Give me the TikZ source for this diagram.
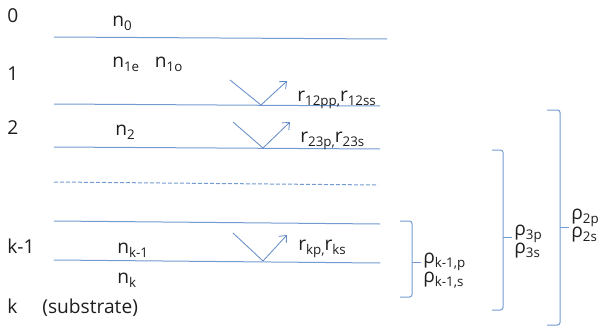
\documentclass[tikz,border=0pt]{standalone}
\usepackage{fontspec}
\setmainfont{Open Sans}
\usetikzlibrary{positioning, arrows.meta}
\definecolor{layerblue}{RGB}{115,155,210}
\definecolor{rayblue}{RGB}{100,140,200}
\definecolor{txtgray}{RGB}{30,30,30}
\newcommand{\lsub}[1]{\raisebox{-2.4pt}{\fontsize{8}{9}\selectfont #1}}

\begin{document}
\begin{tikzpicture}[x=0.6pt, y=-0.6pt,
	        layer/.style={draw=layerblue, line width=0.6pt},
	        lbl/.style={anchor=base west, inner sep=0pt, text=txtgray, font=\fontsize{11.5}{13}\selectfont},
	        ray/.style={draw=rayblue, line width=0.5pt},
	        bracket/.style={draw=layerblue, line width=0.6pt, rounded corners=1.5pt},
	        node distance=8pt, >={Straight Barb[length=3.5pt, width=6pt]}]
	        
	        \useasboundingbox (0,0) rectangle (604,331);
	        
	        % Camadas (numeros)
	        \node (num0) [lbl] at (7,22) {0};
	        \node (num1) [lbl] at (7,80) {1};
	        \node (num2) [lbl] at (7,134) {2};
	        \node (numk1) [lbl] at (7,253) {k-1};
	        \node (numk) [lbl] at (7,313) {k\hspace{15pt}(substrate)};
	        
	        % Indices de refracao
	        \node (n0) [lbl] at (112,26) {n\lsub{0}};
	        \node (n1e) [lbl] at (112,67) {n\lsub{1e}};
	        \node (n1o) [lbl, right=9pt of n1e] {n\lsub{1o}};
	        \node (n2) [lbl] at (115,135) {n\lsub{2}};
	        \node (nk1) [lbl] at (117,253) {n\lsub{k-1}};
	        \node (nk) [lbl] at (117,283) {n\lsub{k}};
	        
	        % Interfaces
	        \coordinate (i0a) at (54,37);  \coordinate (i0b) at (387,39);
	        \coordinate (i1a) at (54,104); \coordinate (i1b) at (380,106);
	        \coordinate (i2a) at (54,147); \coordinate (i2b) at (380,149);
	        \coordinate (ida) at (54,182); \coordinate (idb) at (378,185);
	        \coordinate (i3a) at (54,221); \coordinate (i3b) at (380,224);
	        \coordinate (i4a) at (54,260); \coordinate (i4b) at (380,263);
	        
	        \draw[layer] (i0a) -- (i0b);
	        \draw[layer] (i1a) -- (i1b);
	        \draw[layer] (i2a) -- (i2b);
	        \draw[layer, dash pattern=on 2.4pt off 1.2pt] (ida) -- (idb);
	        \draw[layer] (i3a) -- (i3b);
	        \draw[layer] (i4a) -- (i4b);
	        
	        % Reflexoes
	        \coordinate (in12) at (230,80);  \coordinate (hit12) at (261,105); \coordinate (out12) at (287,81);
	        \coordinate (in23) at (233,122); \coordinate (hit23) at (263,148); \coordinate (out23) at (290,122);
	        \coordinate (ink) at (233,233);  \coordinate (hitk) at (263,261);  \coordinate (outk) at (287,235);
	        
	        \draw[ray] (in12) -- (hit12);
	        \draw[ray, ->] (hit12) -- (out12);
	        \draw[ray] (in23) -- (hit23);
	        \draw[ray, ->] (hit23) -- (out23);
	        \draw[ray] (ink) -- (hitk);
	        \draw[ray, ->] (hitk) -- (outk);
	        
	        \node (r12) [lbl] at (297,101) {r\lsub{12pp,}r\lsub{12ss}};
	        \node (r23) [lbl] at (300,142) {r\lsub{23p,}r\lsub{23s}};
	        \node (rk) [lbl] at (298,250) {r\lsub{kp,}r\lsub{ks}};
	        
	        % Chaves
	        \coordinate (bk1) at (400,221); \coordinate (bk1e) at (400,297);
	        \coordinate (b3) at (492,150);  \coordinate (b3e) at (492,310);
	        \coordinate (b2) at (547,110);  \coordinate (b2e) at (547,325);
	        
	        \draw[bracket] (bk1) -- (412,221) -- (412,297) -- (bk1e);
	        \draw[bracket] (412,262) -- (421,262);
	        \draw[bracket] (b3) -- (503,150) -- (503,310) -- (b3e);
	        \draw[bracket] (503,237) -- (512,237);
	        \draw[bracket] (b2) -- (560,110) -- (560,325) -- (b2e);
	        \draw[bracket] (560,227) -- (569,227);
	        
	        \node (rhokp) [lbl] at (423,263) {ρ\lsub{k-1,p}};
	        \node (rhoks) [lbl] at (423,282) {ρ\lsub{k-1,s}};
	        \node (rho3p) [lbl] at (514,235) {ρ\lsub{3p}};
	        \node (rho3s) [lbl] at (514,253) {ρ\lsub{3s}};
	        \node (rho2p) [lbl] at (571,219) {ρ\lsub{2p}};
	        \node (rho2s) [lbl] at (571,237) {ρ\lsub{2s}};
	    \end{tikzpicture}
\end{document}
